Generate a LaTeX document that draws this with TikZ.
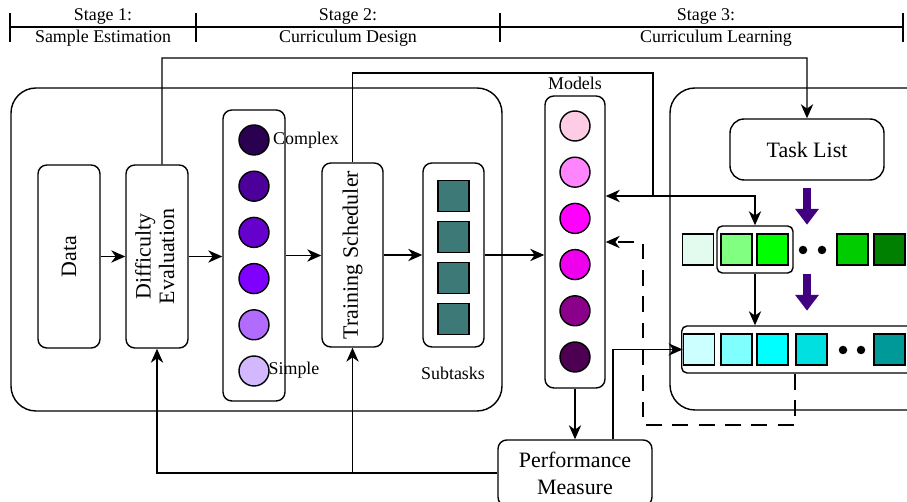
\documentclass[tikz,border=0pt]{standalone}
\usepackage{fontspec}
\setmainfont{Liberation Serif}
\usepackage{tikz}
\usetikzlibrary{arrows.meta, positioning, calc}

% colours of the samples, models and task lists
\definecolor{cxA}{HTML}{2A0050}
\definecolor{cxB}{HTML}{4C0099}
\definecolor{cxC}{HTML}{6600CC}
\definecolor{cxD}{HTML}{8000FF}
\definecolor{cxE}{HTML}{B26BFF}
\definecolor{cxF}{HTML}{D4B8FF}
\definecolor{mdA}{HTML}{FFCCE6}
\definecolor{mdB}{HTML}{FF85FF}
\definecolor{mdC}{HTML}{FF00FF}
\definecolor{mdD}{HTML}{EE00EE}
\definecolor{mdE}{HTML}{8B008B}
\definecolor{mdF}{HTML}{4D0052}
\definecolor{grA}{HTML}{E3FBEE}
\definecolor{grB}{HTML}{80FF80}
\definecolor{grC}{HTML}{00FF00}
\definecolor{grD}{HTML}{00CC00}
\definecolor{grE}{HTML}{008000}
\definecolor{cyA}{HTML}{CCFFFF}
\definecolor{cyB}{HTML}{80FFFF}
\definecolor{cyC}{HTML}{00FFFF}
\definecolor{cyD}{HTML}{00E0E0}
\definecolor{cyE}{HTML}{009999}
\definecolor{subteal}{HTML}{3D7A77}
\definecolor{arrowpurple}{HTML}{400080}

\begin{document}
\begin{tikzpicture}[x=0.02cm, y=-0.02cm, line width=0.8pt,
    >={Stealth[length=8pt, width=7pt, inset=2.5pt]},
    box/.style={draw, rounded corners=5pt, minimum width=1.24cm, minimum height=3.66cm,
        inner sep=0pt, align=center, font=\fontsize{12.5}{15.3}\selectfont},
    ball/.style={draw, circle, minimum size=0.6cm, inner sep=0pt},
    tile/.style={draw, line width=1pt, minimum size=0.62cm, inner sep=0pt},
    dot/.style={circle, fill, inner sep=0pt, minimum size=0.17cm},
    lbl/.style={font=\fontsize{10.2}{12}\selectfont, inner sep=0pt},
    bigarrow/.style={-{Triangle[width=13pt, length=9pt]}, line width=4.5pt, arrowpurple},
]
    \useasboundingbox (0,0) rectangle (907,502);

    % stage header
    \draw (10,27) -- (903,27);
    \foreach \x in {10,196,500,903}
        \draw (\x,13) -- (\x,42);
    \node[lbl] (st1) at (103,17) {Stage 1:};
    \node[lbl] (st1b) at (103,38) {Sample Estimation};
    \node[lbl] (st2) at (348,17) {Stage 2:};
    \node[lbl] (st2b) at (348,38) {Curriculum Design};
    \node[lbl] (st3) at (706,17) {Stage 3:};
    \node[lbl] (st3b) at (716,38) {Curriculum Learning};

    % outer frames
    \draw[rounded corners=0.5cm] (11,88) rectangle (502,411);
    \draw[rounded corners=0.5cm] (670,88) rectangle (950,410);

    % stage 1 and 2 blocks
    \node[box] (data) at (69,256.5) {\rotatebox{90}{Data}};
    \node[box] (diff) at (157,256.5) {\rotatebox{90}{\begin{tabular}{c}Difficulty\\[-2pt]Evaluation\end{tabular}}};
    \node[box, minimum height=5.82cm] (samples) at (254,255.5) {};
    \foreach \col [count=\i from 0] in {cxA,cxB,cxC,cxD,cxE,cxF}
        \node[ball, fill=\col] (d\i) at (254,{140+46.2*\i}) {};
    \node[lbl] (cplx) at (306,140) {Complex};
    \node[lbl] (simp) at (294,370) {Simple};

    \node[box, minimum width=1.22cm, minimum height=3.68cm] (sched) at (352.5,255) {\rotatebox{90}{Training Scheduler}};
    \node[box, minimum width=1.22cm, minimum height=3.68cm] (subs) at (453.5,255) {};
    \foreach \i in {0,...,3}
        \node[tile, fill=subteal] (t\i) at (453.5,{196+41*\i}) {};
    \node[lbl] (sublbl) at (453,373) {Subtasks};

    % models
    \node[box, minimum width=1.2cm, minimum height=5.84cm] (models) at (575,242) {};
    \foreach \col [count=\i from 0] in {mdA,mdB,mdC,mdD,mdE,mdF}
        \node[ball, fill=\col] (m\i) at (575,{126+46.2*\i}) {};
    \node[lbl] (modlbl) at (575,83) {Models};

    \node[box, minimum width=3.08cm, minimum height=1.32cm] (perf) at (575,473) {Performance\\Measure};

    % stage 3: task list and queues
    \node[box, minimum width=3.08cm, minimum height=1.22cm, rounded corners=8pt] (task) at (807,149.5) {Task List};

    \node[draw, rounded corners=3pt, minimum width=1.52cm, minimum height=0.94cm] (pick) at (755,249.5) {};
    \foreach \x/\col [count=\i] in {698/grA, 736.5/grB, 772.5/grC, 852.5/grD, 889.5/grE}
        \node[tile, fill=\col] (g\i) at (\x,249.5) {};
    \node[dot] (gd1) at (803,250) {};
    \node[dot] (gd2) at (822,250) {};

    \node[draw, rounded corners=3pt, minimum width=4.8cm, minimum height=0.94cm, anchor=west] (queue) at (681,349.5) {};
    \foreach \x/\col [count=\i] in {699/cyA, 736.5/cyB, 772.5/cyC, 811.5/cyD, 889.5/cyE}
        \node[tile, fill=\col] (q\i) at (\x,349.5) {};
    \node[dot] (qd1) at (843,350) {};
    \node[dot] (qd2) at (861,350) {};

    \draw[bigarrow] ($(task.south)+(0,7)$) -- ++(0,37);
    \draw[bigarrow] ($(task.south)+(0,93)$) -- ++(0,37);

    % main flow
    \draw[->] (data) -- (diff);
    \draw[->] (diff.east) -- (diff.east -| samples.west);
    \draw[->] (samples.east) -- (samples.east -| sched.west);
    \draw[->] (sched) -- (subs);
    \draw[->] (subs.east) -- (subs.east -| models.west);
    \draw[->] (models) -- (perf);

    % difficulty evaluation feeds the task list
    \coordinate (topA) at (162,58);
    \draw[->] ([xshift=0.1cm]diff.north) -- (topA) -| (task.north);

    % scheduler feeds models and the picked tasks
    \coordinate (topB) at (653,73);
    \coordinate (split) at (653,196);
    \draw (sched.north) |- (topB) -- (split);
    \draw[->] (split) -- (split -| models.east);
    \draw[->] (split) -| (pick.north);
    \draw[->] (pick.south) -- (pick.south |- queue.north);

    % performance feedback
    \draw[->] (perf.west) -| (diff.south);
    \draw[->] (perf.west -| sched.south) -- (sched.south);
    \draw[->] ([xshift=0.76cm]perf.north) |- (q1.west);

    % dashed return from the task queue
    \coordinate (dashA) at (795,425);
    \coordinate (dashB) at (643,425);
    \draw[dashed, dash pattern=on 9pt off 6pt, ->] (dashA |- queue.south) -- (dashA) -- (dashB) |- (models.east);
\end{tikzpicture}
\end{document}
